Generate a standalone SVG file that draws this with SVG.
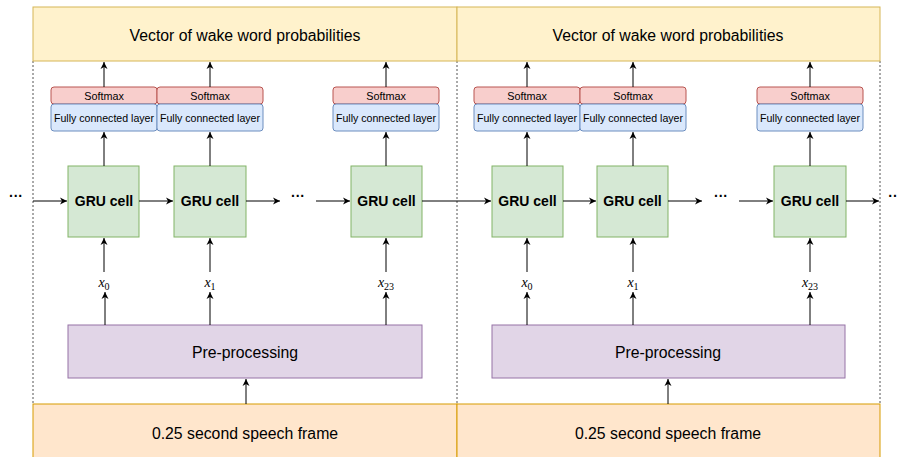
<svg xmlns="http://www.w3.org/2000/svg" width="899" height="457" viewBox="0 0 899 457">
<style>
text{font-family:"Liberation Sans",Arial,sans-serif;fill:#000;text-anchor:middle}
.big{font-size:15.8px}
.sm{font-size:10.8px}
.fc{font-size:10.6px}
.gru{font-size:14px;font-weight:bold}
.xl{font-family:"Liberation Serif","Times New Roman",serif;font-style:italic;font-size:14px}
.sub{font-family:"Liberation Serif","Times New Roman",serif;font-style:normal;font-size:10px}
.dots{font-size:14px;font-weight:bold}
.yel{fill:#fff2cc;stroke:#d6b656}
.org{fill:#ffe6cc;stroke:#d79b00}
.smx{fill:#f8cecc;stroke:#b85450}
.fcb{fill:#dae8fc;stroke:#6c8ebf}
.grub{fill:#d5e8d4;stroke:#82b366}
.pre{fill:#e1d5e7;stroke:#9673a6}
.dash{stroke:#555;stroke-dasharray:2 2;fill:none}
.c{stroke:#000;stroke-width:1;fill:none;marker-end:url(#ah)}
</style>
<defs>
<marker id="ah" markerWidth="8" markerHeight="8" refX="7" refY="4" orient="auto" markerUnits="userSpaceOnUse">
<path d="M0,0.5 L7,4 L0,7.5 L2,4 Z" fill="#000"/>
</marker>
</defs>
<rect width="899" height="457" fill="#fff"/>
<g id="frames">
<line class="dash" x1="33" y1="61" x2="33" y2="404"/>
<line class="dash" x1="457" y1="61" x2="457" y2="404"/>
<line class="dash" x1="880" y1="61" x2="880" y2="404"/>
</g>
<g id="top-left"><rect class="yel" x="33" y="7" width="424" height="54"/><text class="big" x="245" y="40.5">Vector of wake word probabilities</text></g>
<g id="top-right"><rect class="yel" x="457" y="7" width="423" height="54"/><text class="big" x="668" y="40.5">Vector of wake word probabilities</text></g>
<g id="bottom-left"><rect class="org" x="33" y="404" width="424" height="60"/><text class="big" x="245" y="438.5">0.25 second speech frame</text></g>
<g id="bottom-right"><rect class="org" x="457" y="404" width="423" height="60"/><text class="big" x="668" y="438.5">0.25 second speech frame</text></g>
<g id="pre-left"><rect class="pre" x="68" y="325" width="354" height="53"/><text class="big" x="245" y="358">Pre-processing</text></g>
<g id="pre-right"><rect class="pre" x="492" y="325" width="353" height="53"/><text class="big" x="668" y="358">Pre-processing</text></g>

<g id="head1"><rect class="smx" x="51" y="87" width="106" height="17" rx="3"/><text class="sm" x="104" y="99.5">Softmax</text><rect class="fcb" x="51" y="104" width="106" height="27" rx="3"/><text class="fc" x="104" y="121.5">Fully connected layer</text></g>
<g id="head2"><rect class="smx" x="157" y="87" width="106" height="17" rx="3"/><text class="sm" x="210" y="99.5">Softmax</text><rect class="fcb" x="157" y="104" width="106" height="27" rx="3"/><text class="fc" x="210" y="121.5">Fully connected layer</text></g>
<g id="head3"><rect class="smx" x="333" y="87" width="106" height="17" rx="3"/><text class="sm" x="386" y="99.5">Softmax</text><rect class="fcb" x="333" y="104" width="106" height="27" rx="3"/><text class="fc" x="386" y="121.5">Fully connected layer</text></g>
<g id="head4"><rect class="smx" x="474" y="87" width="106" height="17" rx="3"/><text class="sm" x="527" y="99.5">Softmax</text><rect class="fcb" x="474" y="104" width="106" height="27" rx="3"/><text class="fc" x="527" y="121.5">Fully connected layer</text></g>
<g id="head5"><rect class="smx" x="580" y="87" width="106" height="17" rx="3"/><text class="sm" x="633" y="99.5">Softmax</text><rect class="fcb" x="580" y="104" width="106" height="27" rx="3"/><text class="fc" x="633" y="121.5">Fully connected layer</text></g>
<g id="head6"><rect class="smx" x="757" y="87" width="106" height="17" rx="3"/><text class="sm" x="810" y="99.5">Softmax</text><rect class="fcb" x="757" y="104" width="106" height="27" rx="3"/><text class="fc" x="810" y="121.5">Fully connected layer</text></g>

<g id="gru1"><rect class="grub" x="68" y="166" width="71" height="71"/><text class="gru" x="104" y="206">GRU cell</text></g>
<g id="gru2"><rect class="grub" x="174" y="166" width="72" height="71"/><text class="gru" x="210" y="206">GRU cell</text></g>
<g id="gru3"><rect class="grub" x="351" y="166" width="71" height="71"/><text class="gru" x="386.5" y="206">GRU cell</text></g>
<g id="gru4"><rect class="grub" x="492" y="166" width="71" height="71"/><text class="gru" x="527.5" y="206">GRU cell</text></g>
<g id="gru5"><rect class="grub" x="597" y="166" width="71" height="71"/><text class="gru" x="632.5" y="206">GRU cell</text></g>
<g id="gru6"><rect class="grub" x="774" y="166" width="72" height="71"/><text class="gru" x="810" y="206">GRU cell</text></g>

<g id="labels">
<text class="xl" x="104" y="287">x<tspan class="sub" dy="3">0</tspan></text>
<text class="xl" x="210" y="287">x<tspan class="sub" dy="3">1</tspan></text>
<text class="xl" x="386" y="287">x<tspan class="sub" dy="3">23</tspan></text>
<text class="xl" x="527" y="287">x<tspan class="sub" dy="3">0</tspan></text>
<text class="xl" x="633" y="287">x<tspan class="sub" dy="3">1</tspan></text>
<text class="xl" x="810" y="287">x<tspan class="sub" dy="3">23</tspan></text>
<text class="dots" x="16" y="201">···</text>
<text class="dots" x="298" y="201">···</text>
<text class="dots" x="721" y="201">···</text>
<text class="dots" x="893" y="201">··</text>
</g>

<g id="connectors">
<path class="c" d="M104,87V62"/><path class="c" d="M210,87V62"/><path class="c" d="M386,87V62"/>
<path class="c" d="M527,87V62"/><path class="c" d="M633,87V62"/><path class="c" d="M810,87V62"/>
<path class="c" d="M104,166V132"/><path class="c" d="M210,166V132"/><path class="c" d="M386,166V132"/>
<path class="c" d="M527,166V132"/><path class="c" d="M633,166V132"/><path class="c" d="M810,166V132"/>
<path class="c" d="M104,272V238"/><path class="c" d="M210,272V238"/><path class="c" d="M386,272V238"/>
<path class="c" d="M527,272V238"/><path class="c" d="M633,272V238"/><path class="c" d="M810,272V238"/>
<path class="c" d="M105,325V292"/><path class="c" d="M210,325V292"/><path class="c" d="M386,325V292"/>
<path class="c" d="M527,325V292"/><path class="c" d="M633,325V292"/><path class="c" d="M810,325V292"/>
<path class="c" d="M246,404V379"/><path class="c" d="M668,404V379"/>
<path class="c" d="M33,201H67"/><path class="c" d="M139,201H173"/><path class="c" d="M246,201H280"/>
<path class="c" d="M316,201H350"/><path class="c" d="M422,201H491"/><path class="c" d="M563,201H596"/>
<path class="c" d="M668,201H702"/><path class="c" d="M739,201H773"/><path class="c" d="M846,201H879"/>
</g>
</svg>
